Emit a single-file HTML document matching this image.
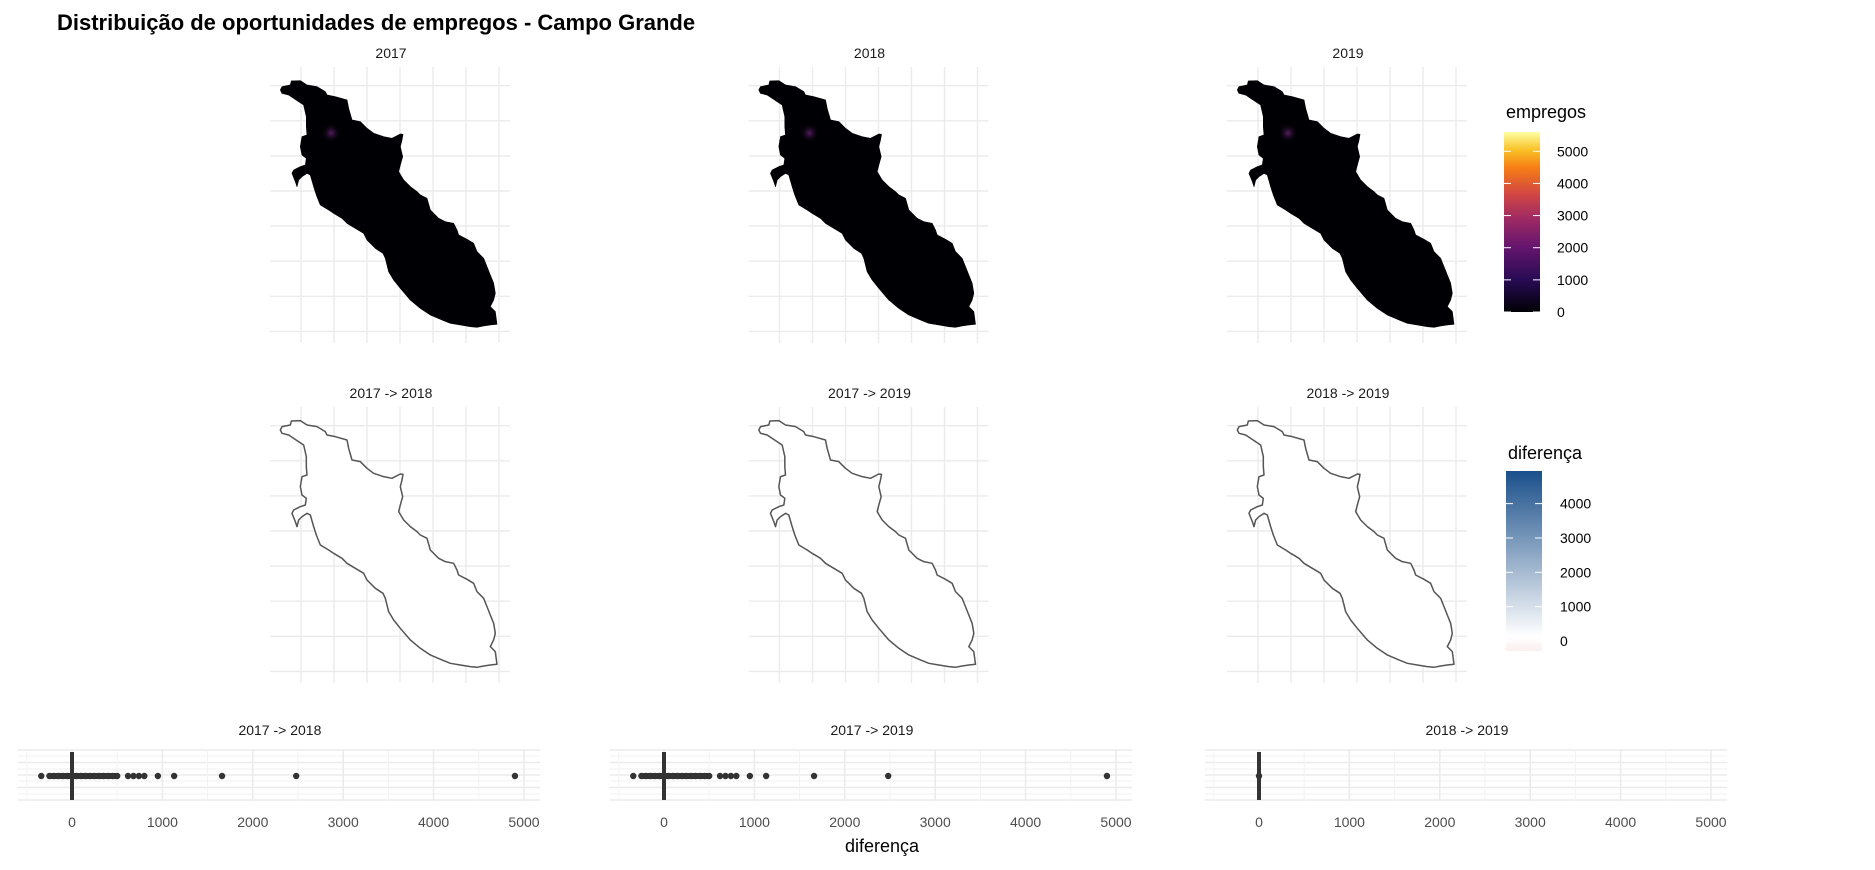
<!DOCTYPE html>
<html><head><meta charset="utf-8"><style>
body{margin:0;background:#fff;}
svg{display:block;font-family:"Liberation Sans",sans-serif;}
</style></head><body>
<svg id="c" width="1875" height="870" viewBox="0 0 1875 870">
<defs>
<linearGradient id="inf" x1="0" y1="1" x2="0" y2="0">
<stop offset="0" stop-color="#000004"/><stop offset="0.18" stop-color="#280b54"/><stop offset="0.36" stop-color="#65156e"/><stop offset="0.52" stop-color="#9f2a63"/><stop offset="0.66" stop-color="#d44842"/><stop offset="0.8" stop-color="#f57d15"/><stop offset="0.9" stop-color="#fac127"/><stop offset="1" stop-color="#fcffa4"/>
</linearGradient>
<linearGradient id="blu" x1="0" y1="1" x2="0" y2="0">
<stop offset="0" stop-color="#fbeeee"/><stop offset="0.08" stop-color="#ffffff"/><stop offset="1" stop-color="#1a4f8a"/>
</linearGradient>
<radialGradient id="glow"><stop offset="0" stop-color="#7a2a8a"/><stop offset="1" stop-color="#000004" stop-opacity="0"/></radialGradient>
</defs>
<text x="57" y="30" font-size="22" font-weight="bold" fill="#000">Distribuição de oportunidades de empregos - Campo Grande</text>
<g id="maps"></g>
<g id="bottom"></g>
<text x="882" y="852" font-size="18" text-anchor="middle" fill="#000">diferença</text>
<g>
<text x="1506" y="118" font-size="18" fill="#000">empregos</text>
<rect x="1504" y="132" width="36" height="180" fill="url(#inf)"/>
<g id="leg1"></g>
</g>
<g>
<text x="1508" y="459" font-size="18" fill="#000">diferença</text>
<rect x="1506" y="471" width="36" height="180" fill="url(#blu)"/>
<g id="leg2"></g>
</g>
</svg>
<script>
const mapTitles = ["2017","2018","2019","2017 -> 2018","2017 -> 2019","2018 -> 2019"];
const bottomTitles = ["2017 -> 2018","2017 -> 2019","2018 -> 2019"];
const diff1718 = [-340,-250,-200,-150,-100,-50,0,50,100,150,200,250,300,350,400,450,500,620,680,740,800,950,1130,1660,2480,4900];
const diff1719 = [-340,-250,-200,-150,-100,-50,0,50,100,150,200,250,300,350,400,450,500,620,680,740,800,950,1130,1660,2480,4900];
const diff1819 = [0];
const xTicks = [0,1000,2000,3000,4000,5000];
const xMinor = [-500,500,1500,2500,3500,4500];
const leg1Ticks = [0,1000,2000,3000,4000,5000];
const leg2Ticks = [0,1000,2000,3000,4000];

const NS="http://www.w3.org/2000/svg";
function mk(tag,attrs,parent){const e=document.createElementNS(NS,tag);for(const k in attrs)e.setAttribute(k,attrs[k]);parent.appendChild(e);return e;}
const shape="M70,150 L75,140 L100,135 L103,123 L130,122 L150,135 L180,140 L205,155 L210,165 L235,170 L270,180 L275,205 L285,240 L310,245 L330,265 L350,280 L380,290 L405,295 L430,282 L438,283 L435,300 L430,320 L437,350 L430,375 L425,395 L440,420 L460,440 L480,455 L490,465 L510,475 L520,510 L545,535 L565,545 L590,550 L600,570 L605,585 L630,598 L650,610 L660,635 L680,655 L690,680 L700,705 L710,730 L715,760 L710,780 L700,800 L715,815 L720,853 L700,855 L680,858 L660,862 L640,860 L610,855 L580,850 L555,840 L520,825 L490,805 L460,780 L430,745 L410,720 L395,695 L385,655 L378,640 L355,625 L330,600 L320,580 L295,565 L270,550 L255,535 L230,520 L215,510 L190,495 L178,465 L170,440 L160,405 L150,400 L135,410 L125,420 L120,440 L115,425 L105,400 L110,390 L130,380 L145,375 L148,355 L135,345 L130,320 L135,290 L150,285 L148,260 L148,230 L140,195 L110,175 L95,165 L75,160 Z";
const maps=document.getElementById('maps');
for(let i=0;i<6;i++){
  const col=i%3,row=Math.floor(i/3);
  const dx=col*478.5, dy=row*340;
  const g=mk('g',{},maps);
  
  
  const gx0=301+dx, gy0=85.7+dy;
  for(let k=0;k<7;k++){const x=gx0+k*33;mk('line',{x1:x,x2:x,y1:67+dy,y2:343+dy,stroke:'#ebebeb','stroke-width':1.4},g);}
  for(let k=0;k<8;k++){const y=gy0+k*35.1;mk('line',{x1:270+dx,x2:510+dx,y1:y,y2:y,stroke:'#ebebeb','stroke-width':1.4},g);}
  mk('path',{d:shape,transform:`translate(${257+dx},${40+dy}) scale(0.3333)`,fill:row===0?'#000004':'#ffffff',stroke:row===0?'#000004':'#555','stroke-width':row===0?2:4.5,'stroke-linejoin':'round'},g);
  if(row===0){mk('circle',{cx:331+dx,cy:133,r:10,fill:'url(#glow)',opacity:0.7},g);}
  const t=mk('text',{x:391+dx,y:row===0?58:398,'font-size':14,'text-anchor':'middle',fill:'#1a1a1a'},g);
  t.textContent=mapTitles[i];
}
const bottom=document.getElementById('bottom');
const series=[diff1718,diff1719,diff1819];
const sx=0.0904;
const zeros=[72,664,1259];
for(let j=0;j<3;j++){
  const x0=zeros[j];
  const X=v=>x0+v*sx;
  const g=mk('g',{},bottom);
  
  
  const yTop=749,yBot=801;
  [750,762.5,775,787.5,800].forEach(y=>mk('line',{x1:X(-600),x2:X(5180),y1:y,y2:y,stroke:'#ebebeb','stroke-width':1.6},g));
  [756,769,781,794].forEach(y=>mk('line',{x1:X(-600),x2:X(5180),y1:y,y2:y,stroke:'#f2f2f2','stroke-width':1},g));
  xTicks.forEach(v=>mk('line',{x1:X(v),x2:X(v),y1:yTop,y2:yBot,stroke:'#ebebeb','stroke-width':1.6},g));
  xMinor.forEach(v=>mk('line',{x1:X(v),x2:X(v),y1:yTop,y2:yBot,stroke:'#f2f2f2','stroke-width':1},g));
  xTicks.forEach(v=>{const t=mk('text',{x:X(v),y:827,'font-size':14,'text-anchor':'middle',fill:'#4d4d4d'},g);t.textContent=v;});
  const tt=mk('text',{x:X(2300),y:735,'font-size':14,'text-anchor':'middle',fill:'#1a1a1a'},g);tt.textContent=bottomTitles[j];
  const data=series[j];
  if(data.length>1){
    const mn=Math.min(...data.filter(v=>v>-300)),mx=500;
    mk('line',{x1:X(mn),x2:X(mx),y1:776,y2:776,stroke:'#333','stroke-width':6},g);
  }
  data.forEach(v=>{const c=mk('circle',{cx:X(v),cy:776,r:3.2,fill:'#333'},g);
    
    });
  mk('line',{x1:X(0),x2:X(0),y1:752,y2:800,stroke:'#333','stroke-width':4},g);
}
const l1=document.getElementById('leg1');
leg1Ticks.forEach(v=>{const y=312-v/5600*180;
  mk('line',{x1:1504,x2:1511,y1:y,y2:y,stroke:'#fff','stroke-width':1},l1);
  mk('line',{x1:1533,x2:1540,y1:y,y2:y,stroke:'#fff','stroke-width':1},l1);
  const t=mk('text',{x:1557,y:y+5,'font-size':14,fill:'#000'},l1);t.textContent=v;});
const l2=document.getElementById('leg2');
leg2Ticks.forEach(v=>{const y=641-v/4950*170;
  mk('line',{x1:1506,x2:1513,y1:y,y2:y,stroke:'#fff','stroke-width':1},l2);
  mk('line',{x1:1535,x2:1542,y1:y,y2:y,stroke:'#fff','stroke-width':1},l2);
  const t=mk('text',{x:1560,y:y+5,'font-size':14,fill:'#000'},l2);t.textContent=v;});
</script>
</body></html>
